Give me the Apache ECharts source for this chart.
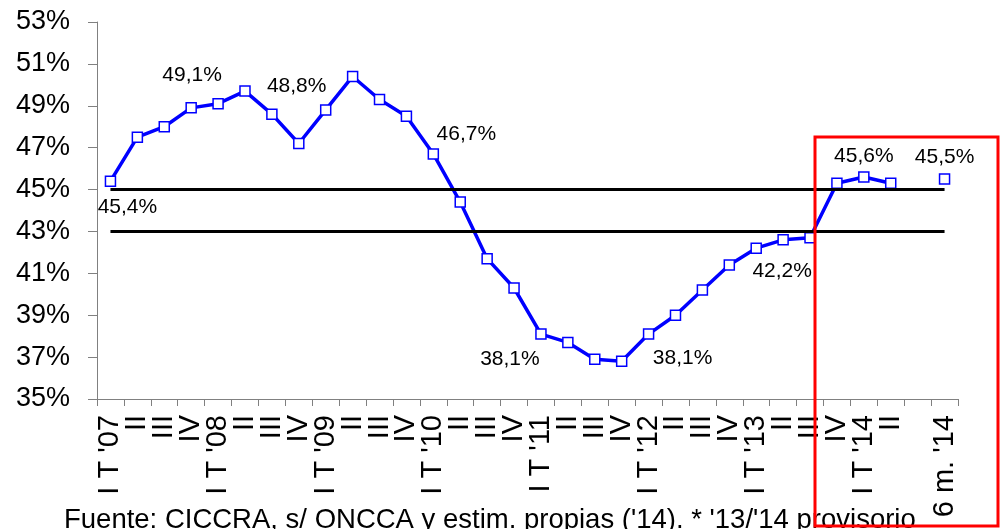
<!DOCTYPE html>
<html>
<head>
<meta charset="utf-8">
<script src="https://cdn.jsdelivr.net/npm/echarts@6/dist/echarts.min.js"></script>
<style>
  html, body { margin: 0; padding: 0; background: #fff; }
  #chart { width: 1000px; height: 529px; }
</style>
</head>
<body>
<div id="chart"></div>
<script>
// trimestres (el hueco antes de "6 m. '14" es a proposito)
var categories = [
  "I T '07", 'II', 'III', 'IV',
  "I T '08", 'II', 'III', 'IV',
  "I T '09", 'II', 'III', 'IV',
  "I T '10", 'II', 'III', 'IV',
  "I T '11", 'II', 'III', 'IV',
  "I T '12", 'II', 'III', 'IV',
  "I T '13", 'II', 'III', 'IV',
  "I T '14", 'II', '', "6 m. '14"
]
// participacion en %
var share = [
  45.4, 47.5, 48.0, 48.9,
  49.1, 49.7, 48.6, 47.2,
  48.8, 50.4, 49.3, 48.5,
  46.7, 44.4, 41.7, 40.3,
  38.1, 37.7, 36.9, 36.8,
  38.1, 39.0, 40.2, 41.4,
  42.2, 42.6, 42.7, 45.3,
  45.6, 45.3, null, 45.5
]
var labeledIdx = [0, 4, 8, 12, 16, 20, 24, 28, 31]
var bandLevels = [45, 43]
var yTicks = [35, 37, 39, 41, 43, 45, 47, 49, 51, 53]

// desplazamiento de cada etiqueta respecto del punto
var labelOffset = {
  0: [17, 26], 4: [-26, -28], 8: [-29, -24], 12: [33, -20],
  16: [-31, 25], 20: [34, 24], 24: [26, 23], 28: [0, -21], 31: [0, -22]
}

function pct(v) {
  return v.toFixed(1).replace('.', ',') + '%'
}

var seriesData = share.map(function (v, i) {
  if (labeledIdx.indexOf(i) < 0) return v
  return {
    value: v,
    label: { show: true, position: 'inside', offset: labelOffset[i] }
  }
})

var bandLines = bandLevels.map(function (lv) {
  return [{ coord: [0, lv] }, { coord: [categories.length - 1, lv] }]
})

var font = 'Liberation Sans, Arial, sans-serif'

var option = {
  backgroundColor: '#fff',
  animation: false,
  grid: { left: 97, right: 42, top: 22, bottom: 130 },
  xAxis: {
    type: 'category',
    data: categories,
    boundaryGap: true,
    axisLine: { lineStyle: { color: '#808080', width: 1 } },
    axisTick: { show: true, length: 7, interval: 0, lineStyle: { color: '#808080' } },
    axisLabel: {
      interval: 0,
      rotate: 90,
      margin: 16,
      color: '#000',
      fontFamily: font,
      fontSize: 29
    },
    splitLine: { show: false }
  },
  yAxis: {
    type: 'value',
    min: yTicks[0],
    max: yTicks[yTicks.length - 1],
    interval: 2,
    axisLine: { show: true, lineStyle: { color: '#808080', width: 1 } },
    axisTick: { show: true, length: 9, lineStyle: { color: '#808080' } },
    axisLabel: {
      margin: 27,
      color: '#000',
      fontFamily: font,
      fontSize: 27,
      formatter: function (v) { return v + '%' }
    },
    splitLine: { show: false }
  },
  series: [
    {
      name: 'bandas',
      type: 'line',
      data: [],
      z: 1,
      markLine: {
        silent: true,
        symbol: 'none',
        label: { show: false },
        lineStyle: { color: '#000', width: 3, type: 'solid' },
        data: bandLines
      }
    },
    {
      name: 'participacion',
      type: 'line',
      data: seriesData,
      z: 3,
      connectNulls: false,
      symbol: 'rect',
      symbolSize: 10,
      lineStyle: { color: '#0000ff', width: 3.5 },
      itemStyle: { color: '#fff', borderColor: '#0000ff', borderWidth: 1.5 },
      label: {
        show: false,
        color: '#000',
        fontFamily: font,
        fontSize: 21,
        formatter: function (p) { return pct(p.value) }
      }
    }
  ],
  graphic: [
    {
      type: 'rect',
      z: 10,
      shape: { x: 815, y: 137, width: 183, height: 389 },
      style: { fill: 'none', stroke: '#ff0000', lineWidth: 3 }
    },
    {
      type: 'text',
      z: 5,
      left: 64,
      top: 506,
      style: {
        text: "Fuente: CICCRA, s/ ONCCA y estim. propias ('14). * '13/'14 provisorio",
        fill: '#000',
        font: '27.5px ' + font
      }
    }
  ]
}

var chart = echarts.init(document.getElementById('chart'), null, { renderer: 'canvas' })
chart.setOption(option)
window.addEventListener('resize', chart.resize)
</script>
</body>
</html>
